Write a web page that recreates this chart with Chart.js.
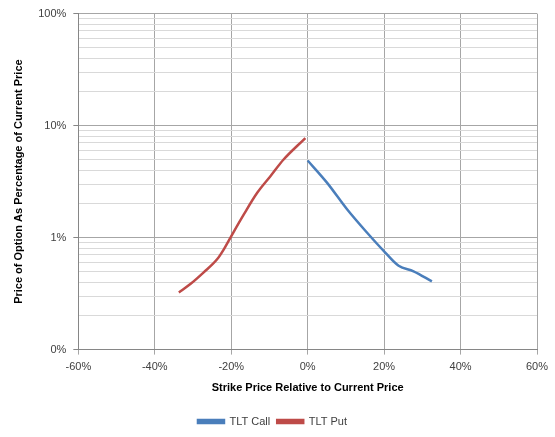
<!DOCTYPE html>
<html>
<head>
<meta charset="utf-8">
<script src="https://cdn.jsdelivr.net/npm/chart.js@4/dist/chart.umd.min.js"></script>
<style>
  html, body { margin: 0; padding: 0; background: #fff; }
  #wrap { width: 555px; height: 437px; }
</style>
</head>
<body>
<div id="wrap"><canvas id="c"></canvas></div>
<script>
// strike relative to current price (%), option price as % of current price
const callStrike = [0, 5.1, 10.3, 15.5, 20.3, 23.8, 27.7, 32.5];
const callPrice = [4.88, 3.08, 1.79, 1.11, 0.735, 0.56, 0.50, 0.406];

const putStrike = [-33.7, -30.7, -27.2, -23.7, -21.9, -20.2, -16.7, -13.2, -9.75, -6.3, -0.6];
const putPrice = [0.324, 0.385, 0.49, 0.64, 0.79, 1.0, 1.61, 2.51, 3.53, 4.98, 7.74];

const xTicks = [-60, -40, -20, 0, 20, 40, 60];
const yDecades = [0.1, 1, 10, 100];

const toPoints = (xs, ys) => xs.map((x, i) => ({ x: x, y: ys[i] }));

const font = "'Liberation Sans', Arial, sans-serif";
Chart.defaults.font.family = font;
Chart.defaults.color = '#404040';

const isDecade = v => yDecades.some(d => Math.abs(v - d) < 1e-9);
const tickIsDecade = ctx => ctx.tick ? isDecade(ctx.tick.value) : true;

new Chart(document.getElementById('c'), {
    type: 'scatter',
    data: {
        datasets: [
            {
                label: 'TLT Call',
                data: toPoints(callStrike, callPrice),
                showLine: true,
                borderColor: '#4A7EBB',
                backgroundColor: '#4A7EBB',
                borderWidth: 2.5,
                pointRadius: 0,
                cubicInterpolationMode: 'monotone'
            },
            {
                label: 'TLT Put',
                data: toPoints(putStrike, putPrice),
                showLine: true,
                borderColor: '#BE4B48',
                backgroundColor: '#BE4B48',
                borderWidth: 2.5,
                pointRadius: 0,
                cubicInterpolationMode: 'monotone'
            }
        ]
    },
    options: {
        responsive: true,
        maintainAspectRatio: false,
        animation: false,
        layout: { padding: { top: 9, right: 18, left: 8, bottom: 0 } },
        plugins: {
            legend: {
                position: 'bottom',
                labels: {
                    boxWidth: 26,
                    boxHeight: 3,
                    padding: 7,
                    font: { size: 11 },
                    color: '#404040'
                }
            },
            tooltip: { enabled: false }
        },
        scales: {
            x: {
                type: 'linear',
                min: -60,
                max: 60,
                afterBuildTicks: axis => { axis.ticks = xTicks.map(v => ({ value: v })); },
                ticks: {
                    callback: v => v + '%',
                    font: { size: 11 },
                    color: '#404040',
                    padding: 6
                },
                grid: { color: '#a6a6a6', tickLength: 5 },
                border: { color: '#868686' },
                title: {
                    display: true,
                    text: 'Strike Price Relative to Current Price',
                    font: { size: 11, weight: 'bold' },
                    color: '#000',
                    padding: { top: 2, bottom: 14 }
                }
            },
            y: {
                type: 'logarithmic',
                min: 0.1,
                max: 100,
                afterBuildTicks: axis => {
                    const t = [];
                    for (let d = 0.1; d < 99; d *= 10) {
                        for (let k = 1; k < 10; k++) t.push({ value: +(d * k).toPrecision(6) });
                    }
                    t.push({ value: 100 });
                    axis.ticks = t;
                },
                ticks: {
                    autoSkip: false,
                    callback: v => isDecade(v) ? Math.round(v) + '%' : '',
                    font: { size: 11 },
                    color: '#404040',
                    padding: 7
                },
                grid: {
                    color: ctx => tickIsDecade(ctx) ? '#a6a6a6' : '#d9d9d9',
                    tickColor: ctx => tickIsDecade(ctx) ? '#868686' : 'rgba(0,0,0,0)',
                    tickLength: 5
                },
                border: { color: '#868686' },
                title: {
                    display: true,
                    text: 'Price of Option As Percentage of Current Price',
                    font: { size: 11, weight: 'bold' },
                    color: '#000',
                    padding: { bottom: 6 }
                }
            }
        }
    }
});
</script>
</body>
</html>
